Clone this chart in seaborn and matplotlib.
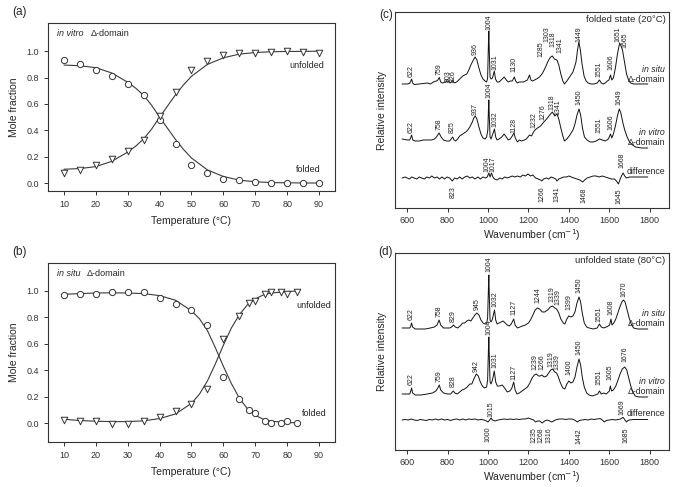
import numpy as np
import pandas as pd
import matplotlib
matplotlib.use("Agg")
import matplotlib.pyplot as plt
import seaborn as sns

# ---- (a) in vitro melting curve ----
temp_a = [10, 15, 20, 25, 30, 35, 40, 45, 50, 55, 60, 65, 70, 75, 80, 85, 90]
folded_a = [0.93, 0.905, 0.86, 0.81, 0.75, 0.67, 0.48, 0.30, 0.14, 0.08, 0.03, 0.02, 0.01, 0.0, 0.0, 0.0, 0.0]
unfolded_a = [0.08, 0.10, 0.135, 0.18, 0.24, 0.33, 0.51, 0.69, 0.86, 0.925, 0.97, 0.985, 0.99, 0.995, 1.005, 0.997, 0.99]
fit_t_a = [10, 15, 20, 25, 30, 32.5, 35, 37.5, 40, 42.5, 45, 47.5, 50, 55, 60, 65, 70, 75, 80, 90]
fit_folded_a = [0.895, 0.89, 0.875, 0.835, 0.765, 0.72, 0.665, 0.59, 0.50, 0.415, 0.33, 0.255, 0.19,
                0.10, 0.05, 0.022, 0.01, 0.004, 0.002, 0.0]
fit_unfolded_a = [0.105, 0.11, 0.125, 0.165, 0.235, 0.28, 0.335, 0.41, 0.50, 0.585, 0.67, 0.745, 0.81,
                  0.90, 0.95, 0.978, 0.99, 0.996, 0.998, 1.0]

# ---- (b) in situ melting curve ----
temp_b = [10, 15, 20, 25, 30, 35, 40, 45, 50, 55, 60, 65, 68, 70, 73, 75, 78, 80, 83]
folded_b = [0.97, 0.975, 0.98, 0.995, 0.995, 0.99, 0.95, 0.905, 0.855, 0.74, 0.35, 0.18, 0.10, 0.08,
            0.02, 0.0, 0.0, 0.02, 0.0]
unfolded_b = [0.025, 0.02, 0.015, -0.005, -0.005, 0.015, 0.05, 0.09, 0.145, 0.26, 0.635, 0.81, 0.91,
              0.925, 0.975, 0.99, 0.99, 0.98, 0.99]
fit_t_b = [10, 15, 20, 25, 30, 35, 40, 45, 50, 52.5, 55, 57.5, 60, 62.5, 65, 67.5, 70, 72.5, 75, 80, 83]
fit_folded_b = [0.975, 0.98, 0.985, 0.986, 0.985, 0.98, 0.965, 0.93, 0.85, 0.79, 0.70, 0.57, 0.43,
                0.30, 0.19, 0.11, 0.06, 0.03, 0.015, 0.005, 0.003]
fit_unfolded_b = [0.03, 0.02, 0.015, 0.012, 0.012, 0.018, 0.035, 0.07, 0.15, 0.22, 0.32, 0.45, 0.59,
                  0.72, 0.82, 0.895, 0.94, 0.97, 0.985, 0.995, 1.0]

# ---- (c) Raman spectra, folded state (20 C); (wavenumber, relative intensity) ----
situ20 = [(575,0),(600,0),(612,0.5),(618,3),(622,5),(627,1),(635,-0.5),(660,0),(680,0.5),(700,1),(715,0),
          (730,2),(745,3),(752,4),(759,6.5),(766,2),(775,1),(790,2),(803,3),(812,1),(820,2),(826,3.5),
          (833,1),(845,2),(860,5),(875,8),(885,9),(895,10),(905,14),(915,19),(925,23),(936,27),(945,24),
          (955,16),(965,9),(975,5),(985,3),(993,2),(998,6),(1002,40),(1004,53),(1006,35),(1010,7),
          (1015,5),(1022,6),(1031,13),(1037,5),(1045,2),(1055,2),(1065,4),(1080,7),(1090,4),(1100,2),
          (1110,3),(1120,3),(1130,7),(1137,3),(1145,1),(1155,2),(1165,2),(1175,2),(1185,3),(1195,4),
          (1205,9),(1212,4),(1220,3),(1230,4),(1240,5),(1255,7),(1270,11),(1285,17),(1295,22),(1303,25),
          (1310,27),(1318,28),(1328,25),(1341,24),(1350,19),(1360,10),(1370,3),(1378,0),(1390,3),(1400,6),
          (1410,9),(1420,12),(1428,17),(1435,22),(1442,33),(1449,42),(1456,35),(1465,20),(1475,8),
          (1485,3),(1495,1),(1510,0),(1525,0),(1540,1),(1551,4),(1560,1),(1570,0),(1580,1),(1590,3),
          (1598,4),(1606,9),(1612,4),(1620,6),(1630,16),(1640,30),(1651,41),(1658,38),(1665,34),
          (1675,22),(1685,10),(1695,4),(1705,1),(1720,0),(1750,0),(1790,0)]
vitro20 = [(575,1),(600,0),(612,0),(617,2),(622,5),(628,0),(640,-1),(660,-1),(680,0),(700,0),(720,0),
           (735,1),(745,3),(758,7),(768,3),(780,0),(795,-1),(810,-1),(818,1),(825,3),(832,0),(840,-1),
           (850,1),(860,4),(875,6),(890,8),(900,10),(910,13),(920,17),(930,22),(937,24),(945,21),(955,13),
           (965,6),(975,2),(985,1),(993,3),(999,10),(1002,30),(1004,40),(1006,25),(1010,3),(1015,1),
           (1022,5),(1032,11),(1038,3),(1045,0),(1055,1),(1068,3),(1080,6),(1090,3),(1100,0),(1110,1),
           (1120,4),(1128,7),(1135,2),(1145,-2),(1155,0),(1165,-1),(1180,0),(1190,1),(1205,5),(1215,4),
           (1225,8),(1232,10),(1245,12),(1260,14),(1276,18),(1290,21),(1305,25),(1318,28),(1330,24),
           (1341,26),(1350,21),(1360,12),(1370,4),(1378,-1),(1390,1),(1405,5),(1420,10),(1430,16),
           (1440,25),(1450,31),(1458,25),(1467,12),(1477,3),(1490,0),(1505,-2),(1520,-2),(1535,-1),
           (1551,1),(1565,0),(1580,-1),(1595,1),(1606,6),(1612,2),(1620,6),(1630,14),(1640,24),(1649,31),
           (1657,27),(1666,18),(1676,10),(1688,3),(1700,-2),(1715,-5),(1730,-7),(1760,-8),(1790,-8)]
diff20 = [(575,0),(590,1),(600,0),(612,-1),(622,1),(635,0),(648,-1),(660,1),(672,0),(685,-1),(697,1),
          (710,0),(722,2),(735,0),(748,1),(760,-1),(772,1),(785,-1),(797,1),(810,0),(823,-3),(835,0),
          (847,-1),(860,1),(872,-1),(885,1),(897,2),(910,0),(922,1),(935,-1),(950,1),(962,-1),(975,1),
          (988,0),(996,1),(1004,5),(1010,1),(1017,5),(1024,1),(1032,-1),(1045,-2),(1058,0),(1070,-1),
          (1082,1),(1095,0),(1108,1),(1120,2),(1133,1),(1146,2),(1160,1),(1172,3),(1185,2),(1198,4),
          (1210,2),(1222,3),(1235,0),(1248,-1),(1260,-2),(1266,-3),(1275,-1),(1288,0),(1300,-1),(1312,1),
          (1325,0),(1335,-1),(1341,-3),(1350,-1),(1362,0),(1375,1),(1388,1),(1400,2),(1412,1),(1425,0),
          (1440,-1),(1455,-2),(1468,-4),(1478,-2),(1490,0),(1505,1),(1520,2),(1535,2),(1550,1),(1565,2),
          (1580,1),(1595,0),(1610,-1),(1625,-1),(1635,-3),(1645,-6),(1652,-2),(1660,2),(1668,5),(1676,2),
          (1685,0),(1700,1),(1720,1),(1750,1),(1790,1)]

# ---- (d) Raman spectra, unfolded state (80 C) ----
situ80 = [(575,0),(600,0),(613,0),(618,2),(622,5),(627,1),(640,-1),(660,-1),(690,-1),(715,0),(735,1),
          (748,3),(758,8),(766,3),(780,0),(795,0),(810,0),(820,1),(829,3),(838,1),(850,0),(862,2),(875,5),
          (885,5),(895,7),(905,8),(915,7),(925,10),(935,13),(945,15),(955,13),(965,8),(975,5),(985,4),
          (993,4),(998,10),(1002,40),(1004,53),(1006,35),(1010,8),(1015,6),(1022,9),(1032,18),(1038,8),
          (1045,4),(1055,5),(1065,6),(1075,7),(1085,5),(1095,3),(1105,2),(1115,4),(1127,9),(1134,3),
          (1145,0),(1158,1),(1170,2),(1185,3),(1200,5),(1210,8),(1222,13),(1233,18),(1244,20),(1255,19),
          (1268,16),(1280,16),(1295,18),(1308,21),(1319,22),(1330,20),(1339,19),(1350,15),(1360,9),
          (1372,5),(1380,4),(1390,9),(1399,12),(1410,11),(1420,12),(1430,16),(1440,25),(1450,31),
          (1458,26),(1466,15),(1476,5),(1488,1),(1500,0),(1520,-1),(1540,0),(1551,4),(1560,1),(1572,0),
          (1585,1),(1595,2),(1601,3),(1608,9),(1613,3),(1622,5),(1632,9),(1642,15),(1652,21),(1662,26),
          (1670,28),(1678,26),(1688,18),(1698,10),(1708,4),(1720,0),(1740,-1),(1790,-1)]
vitro80 = [(575,0),(600,0),(613,0),(618,3),(622,6),(627,1),(640,-1),(670,-1),(700,0),(725,1),(742,3),
           (752,6),(759,9),(766,4),(780,1),(800,0),(815,0),(828,3),(836,1),(848,0),(860,2),(872,4),
           (885,5),(897,7),(910,10),(920,10),(930,15),(942,20),(952,18),(962,12),(972,8),(982,6),(993,7),
           (998,14),(1002,44),(1004,57),(1006,40),(1010,12),(1015,10),(1022,14),(1031,23),(1038,12),
           (1046,8),(1058,8),(1070,9),(1082,6),(1095,2),(1108,3),(1118,6),(1127,12),(1134,4),(1143,0),
           (1155,1),(1168,3),(1182,5),(1195,7),(1207,11),(1218,16),(1229,19),(1239,20),(1250,18),
           (1258,18),(1266,19),(1278,17),(1290,18),(1300,21),(1310,24),(1319,25),(1330,22),(1339,21),
           (1348,17),(1358,11),(1370,6),(1380,5),(1390,10),(1400,13),(1410,11),(1420,12),(1430,17),
           (1440,27),(1450,35),(1458,29),(1466,17),(1476,7),(1488,1),(1500,-1),(1515,-2),(1530,-1),
           (1543,0),(1551,3),(1560,0),(1572,1),(1585,0),(1595,2),(1600,3),(1605,8),(1611,3),(1620,4),
           (1632,8),(1643,14),(1653,20),(1664,25),(1676,27),(1686,24),(1696,16),(1706,8),(1716,2),
           (1728,-2),(1745,-3),(1790,-3)]
diff80 = [(575,0),(590,0.5),(605,0),(620,1),(635,0),(650,-0.5),(665,0.5),(680,0),(695,-0.5),(710,0.5),
          (725,0),(740,1),(755,0),(770,1),(785,0),(800,0.5),(815,-0.5),(830,0.5),(845,1),(860,0),(875,1),
          (890,0),(905,1),(920,0.5),(935,1),(950,0),(965,0.5),(980,0),(992,-1),(1000,-2),(1008,0),
          (1015,2),(1022,0),(1035,-1),(1050,0),(1065,0.5),(1080,1),(1095,0.5),(1110,1),(1125,0.5),
          (1140,1),(1155,0.5),(1170,1),(1185,1),(1200,2),(1212,1),(1225,0),(1235,-2),(1245,-1),
          (1255,-1),(1268,-3),(1280,-1),(1292,0),(1305,-1),(1316,-2),(1328,-0.5),(1340,0.5),(1355,1),
          (1370,1),(1385,0.5),(1400,1),(1415,1),(1428,0),(1442,-2),(1452,-0.5),(1465,0),(1480,0.5),
          (1495,0),(1510,1),(1525,0.5),(1540,1),(1555,1.5),(1565,0),(1575,-2),(1585,-0.5),(1600,0),
          (1615,0.5),(1630,0),(1645,0.5),(1655,1),(1662,2),(1669,2.5),(1677,0),(1685,-2),(1692,-0.5),
          (1700,0),(1720,0.5),(1750,0.5),(1790,0.5)]

# peak labels: (text, x, y, vertical alignment)
labels_c = [("622",622,131,"bottom"),("759",759,133,"bottom"),("803",801,126,"bottom"),
            ("826",830,126,"bottom"),("936",936,153,"bottom"),("1004",1004,178,"bottom"),
            ("1031",1033,138,"bottom"),("1130",1130,136,"bottom"),("1285",1263,151,"bottom"),
            ("1303",1292,166,"bottom"),("1318",1323,161,"bottom"),("1341",1354,155,"bottom"),
            ("1449",1449,166,"bottom"),("1551",1551,131,"bottom"),("1606",1606,138,"bottom"),
            ("1651",1643,166,"bottom"),("1665",1676,160,"bottom"),
            ("622",622,75,"bottom"),("758",758,78,"bottom"),("825",825,75,"bottom"),
            ("937",937,93,"bottom"),("1004",1004,110,"bottom"),("1032",1035,81,"bottom"),
            ("1128",1128,75,"bottom"),("1232",1228,80,"bottom"),("1276",1272,88,"bottom"),
            ("1318",1318,98,"bottom"),("1341",1346,93,"bottom"),("1450",1450,103,"bottom"),
            ("1551",1551,75,"bottom"),("1606",1606,78,"bottom"),("1649",1649,103,"bottom"),
            ("1004",995,36,"bottom"),("1017",1026,36,"bottom"),("1668",1664,40,"bottom"),
            ("823",829,22,"top"),("1266",1268,22,"top"),("1341",1343,22,"top"),
            ("1468",1473,20,"top"),("1645",1647,19,"top")]
labels_d = [("622",622,130,"bottom"),("758",758,133,"bottom"),("829",829,128,"bottom"),
            ("945",945,140,"bottom"),("1004",1004,178,"bottom"),("1032",1035,143,"bottom"),
            ("1127",1127,135,"bottom"),("1244",1247,147,"bottom"),("1319",1314,148,"bottom"),
            ("1339",1344,145,"bottom"),("1399",1399,140,"bottom"),("1450",1450,157,"bottom"),
            ("1551",1551,128,"bottom"),("1608",1608,135,"bottom"),("1670",1670,153,"bottom"),
            ("622",622,65,"bottom"),("759",759,68,"bottom"),("828",828,63,"bottom"),
            ("942",942,78,"bottom"),("1004",1004,115,"bottom"),("1031",1034,82,"bottom"),
            ("1127",1127,70,"bottom"),("1239",1234,80,"bottom"),("1266",1266,80,"bottom"),
            ("1319",1310,83,"bottom"),("1339",1342,80,"bottom"),("1400",1400,75,"bottom"),
            ("1450",1450,95,"bottom"),("1551",1551,65,"bottom"),("1605",1605,70,"bottom"),
            ("1676",1676,88,"bottom"),
            ("1015",1015,33,"bottom"),("1669",1664,35,"bottom"),
            ("1000",1000,23,"top"),("1235",1225,23,"top"),("1268",1260,23,"top"),
            ("1316",1300,23,"top"),("1442",1450,22,"top"),("1685",1682,22,"top")]

sns.set_style("ticks")
plt.rcParams["font.family"] = ["Liberation Sans", "DejaVu Sans"]
plt.rcParams["axes.linewidth"] = 0.8
plt.rcParams["axes.edgecolor"] = "#333333"
plt.rcParams["xtick.color"] = "#333333"
plt.rcParams["ytick.color"] = "#333333"

fig = plt.figure(figsize=(6.75, 4.87), dpi=100)
ax_a = fig.add_axes([0.0711, 0.6078, 0.4252, 0.3450])
ax_b = fig.add_axes([0.0711, 0.0930, 0.4252, 0.3676])
ax_c = fig.add_axes([0.5852, 0.5729, 0.4059, 0.4025])
ax_d = fig.add_axes([0.5852, 0.0760, 0.4059, 0.4045])

line_col = "#3a3a3a"


def melt_panel(ax, t, fold, unf, ft, ffold, funf, title_it, delta_x, ylim, unf_xy, fold_xy):
    sns.lineplot(x=ft, y=ffold, ax=ax, color=line_col, linewidth=0.8, sort=False, estimator=None)
    sns.lineplot(x=ft, y=funf, ax=ax, color=line_col, linewidth=0.8, sort=False, estimator=None)
    sns.scatterplot(x=t, y=fold, ax=ax, marker="o", s=20, facecolor="white",
                    edgecolor="#333333", linewidth=0.7, zorder=3)
    sns.scatterplot(x=t, y=unf, ax=ax, marker="v", s=22, facecolor="white",
                    edgecolor="#333333", linewidth=0.7, zorder=3)
    ax.set_xlim(5, 95)
    ax.set_ylim(*ylim)
    ax.set_xticks(range(10, 91, 10))
    ax.set_yticks([0, 0.2, 0.4, 0.6, 0.8, 1.0])
    ax.set_yticklabels(["0.0", "0.2", "0.4", "0.6", "0.8", "1.0"])
    ax.tick_params(labelsize=6.5, length=3, width=0.7, direction="out")
    ax.set_xlabel("Temperature (°C)", fontsize=7.5, labelpad=5)
    ax.set_ylabel("Mole fraction", fontsize=7.5, labelpad=5)
    ax.text(7.7, 1.136, title_it, fontsize=6.5, style="italic", va="center")
    ax.text(delta_x, 1.136, "Δ-domain", fontsize=6.5, va="center")
    ax.text(unf_xy[0], unf_xy[1], "unfolded", fontsize=6.5, ha="right", va="center", color="#222222")
    ax.text(fold_xy[0], fold_xy[1], "folded", fontsize=6.5, ha="right", va="center", color="#222222")


melt_panel(ax_a, temp_a, folded_a, unfolded_a, fit_t_a, fit_folded_a, fit_unfolded_a,
           "in vitro", 18.4, (-0.06, 1.214), (91.5, 0.89), (90.6, 0.10))
melt_panel(ax_b, temp_b, folded_b, unfolded_b, fit_t_b, fit_folded_b, fit_unfolded_b,
           "in situ", 17.0, (-0.14, 1.214), (93.8, 0.89), (92.4, 0.073))


def spec_panel(ax, spectra, offsets, labels, ylim, state_text, side_y):
    for spec, off in zip(spectra, offsets):
        df = pd.DataFrame(spec, columns=["wn", "inten"])
        df["inten"] = df["inten"] + off
        sns.lineplot(data=df, x="wn", y="inten", ax=ax, color="#111111", linewidth=0.7,
                     sort=False, estimator=None)
    for txt, x, y, va in labels:
        ax.text(x, y, txt, fontsize=5.0, rotation=90, ha="center", va=va, color="#222222")
    ax.set_xlim(540, 1895)
    ax.set_ylim(*ylim)
    ax.set_xticks(range(600, 1801, 200))
    ax.set_yticks([])
    ax.tick_params(labelsize=6.5, length=3, width=0.7, direction="out", pad=2.5)
    ax.set_xlabel("Wavenumber (cm$^{-1}$)", fontsize=7.5, labelpad=1.5)
    ax.set_ylabel("Relative intensity", fontsize=7.5, labelpad=6)
    ax.text(1878, ylim[1] - 8, state_text, fontsize=6.8, ha="right", va="center")
    ax.text(1876, side_y[0], "in situ", fontsize=6.3, style="italic", ha="right", va="center")
    ax.text(1876, side_y[1], "Δ-domain", fontsize=6.3, ha="right", va="center")
    ax.text(1876, side_y[2], "in vitro", fontsize=6.3, style="italic", ha="right", va="center")
    ax.text(1876, side_y[3], "Δ-domain", fontsize=6.3, ha="right", va="center")
    ax.text(1878, side_y[4], "difference", fontsize=6.3, ha="right", va="center")


spec_panel(ax_c, [situ20, vitro20, diff20], [124, 68, 30], labels_c, (0, 196),
           "folded state (20°C)", [138, 128, 75, 65, 36])
spec_panel(ax_d, [situ80, vitro80, diff80], [122, 56, 30], labels_d, (0, 197),
           "unfolded state (80°C)", [136, 126, 68, 58, 36])

fig.text(0.018, 0.975, "(a)", fontsize=8.5, va="center")
fig.text(0.018, 0.482, "(b)", fontsize=8.5, va="center")
fig.text(0.562, 0.970, "(c)", fontsize=8.5, va="center")
fig.text(0.560, 0.482, "(d)", fontsize=8.5, va="center")

fig.savefig("out.png", dpi=100)
